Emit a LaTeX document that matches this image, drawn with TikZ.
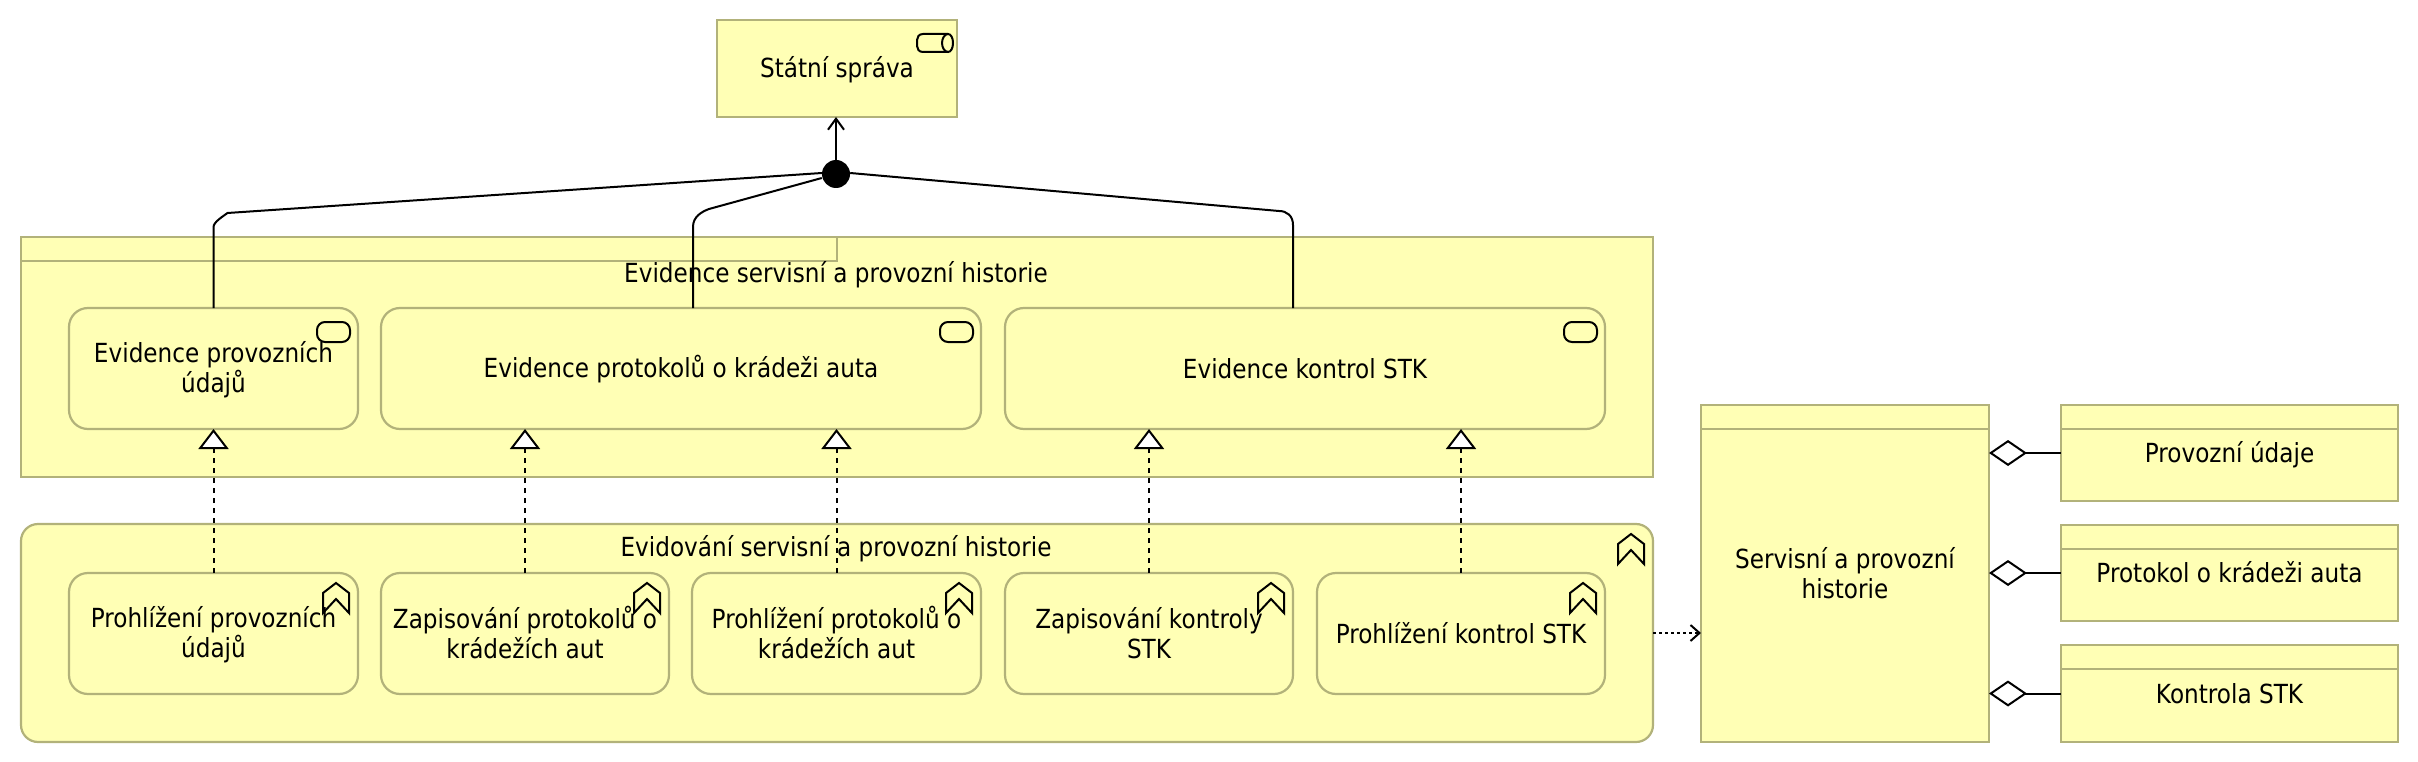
\documentclass[tikz,border=0pt]{standalone}
\usepackage{fontspec}
\setmainfont[FakeStretch=0.88]{DejaVu Sans}
\usetikzlibrary{arrows.meta,calc,shapes.geometric}
\definecolor{archfill}{HTML}{FFFFB5}
\definecolor{archline}{HTML}{B2B27A}
\newcommand{\ls}{\rule[-4.5pt]{0pt}{28pt}}
\tikzset{
  base/.style={draw=archline,line width=2.2pt,fill=archfill,anchor=north west,inner sep=0pt,outer sep=0pt,align=center,font=\fontsize{26.3}{30}\selectfont},
  sq/.style={base,rectangle},
  rnd/.style={base,rectangle,rounded corners=19pt},
  grp/.style={base,rectangle,rounded corners=17pt},
  lbl/.style={font=\fontsize{26.3}{30}\selectfont,inner sep=0pt},
  sep/.style={draw=archline,line width=2.2pt},
  icon/.style={draw=black,line width=2pt,line join=miter},
  conn/.style={draw=black,line width=2pt},
  real/.style={conn,dash pattern=on 5pt off 5pt,-{Triangle[fill=white,length=20pt,width=30pt,line width=2pt]}},
  flowc/.style={conn,dash pattern=on 3pt off 3pt,-{Straight Barb[length=9pt,width=16pt,line width=2pt]}},
  serv/.style={conn,-{Straight Barb[length=11pt,width=16pt,line width=2pt]}},
  aggr/.style={conn,{Diamond[fill=white,length=38pt,width=26pt,line width=2pt]}-},
  joint/.style={circle,fill=black,draw=none,minimum size=28pt,inner sep=0pt}
}
\newcommand{\pill}[1]{\draw[icon,rounded corners=8pt] ([shift={(-41pt,-14pt)}]#1.north east) rectangle ([shift={(-8pt,-34pt)}]#1.north east);}
\newcommand{\chev}[1]{\draw[icon] ([shift={(-35pt,-40pt)}]#1.north east) -- ([shift={(-35pt,-20pt)}]#1.north east) -- ([shift={(-22pt,-10pt)}]#1.north east) -- ([shift={(-9pt,-20pt)}]#1.north east) -- ([shift={(-9pt,-40pt)}]#1.north east) -- ([shift={(-22pt,-26pt)}]#1.north east) -- cycle;}
\newcommand{\hdr}[1]{\draw[sep] ([yshift=-24pt]#1.north west) -- ([yshift=-24pt]#1.north east);}
\begin{document}
\begin{tikzpicture}[x=1pt,y=-1pt]
\useasboundingbox (0,0) rectangle (2418,762);
% groups
\node[sq,minimum width=1632pt,minimum height=240pt] (g1) at (21,237) {};
\draw[sep] (g1.north west) rectangle ([shift={(816pt,-24pt)}]g1.north west);
\node[lbl] (g1t) at (836,273) {\ls Evidence servisní a provozní historie};
\node[grp,minimum width=1632pt,minimum height=218pt] (g2) at (21,524) {};
\node[lbl] (g2t) at (836,547) {\ls Evidování servisní a provozní historie};
\chev{g2}
% top
\node[sq,minimum width=240pt,minimum height=97pt] (st) at (717,20) {\ls Státní správa};
\draw[icon] (948,34) -- (923,34) .. controls (919,34) and (917,37) .. (917,40) -- (917,46) .. controls (917,49) and (919,52) .. (923,52) -- (948,52);
\draw[icon] (948,34) .. controls (945,34) and (942,38) .. (942,43) .. controls (942,48) and (945,52) .. (948,52) .. controls (951,52) and (953,48) .. (953,43) .. controls (953,38) and (951,34) .. (948,34) -- cycle;
\node[joint] (j) at (836,174) {};
% services
\node[rnd,minimum width=289pt,minimum height=121pt] (s1) at (69,308) {\ls Evidence provozních\\\ls údajů};
\node[rnd,minimum width=600pt,minimum height=121pt] (s2) at (381,308) {\ls Evidence protokolů o krádeži auta};
\node[rnd,minimum width=600pt,minimum height=121pt] (s3) at (1005,308) {\ls Evidence kontrol STK};
\pill{s1}\pill{s2}\pill{s3}
% functions
\node[rnd,minimum width=289pt,minimum height=121pt] (f1) at (69,573) {\ls Prohlížení provozních\\\ls údajů};
\node[rnd,minimum width=288pt,minimum height=121pt] (f2) at (381,573) {\ls Zapisování protokolů o\\\ls krádežích aut};
\node[rnd,minimum width=289pt,minimum height=121pt] (f3) at (692,573) {\ls Prohlížení protokolů o\\\ls krádežích aut};
\node[rnd,minimum width=288pt,minimum height=121pt] (f4) at (1005,573) {\ls Zapisování kontroly\\\ls STK};
\node[rnd,minimum width=288pt,minimum height=121pt] (f5) at (1317,573) {\ls Prohlížení kontrol STK};
\chev{f1}\chev{f2}\chev{f3}\chev{f4}\chev{f5}
% data
\node[sq,minimum width=288pt,minimum height=337pt] (d) at (1701,405) {\ls Servisní a provozní\\\ls historie};
\node[sq,minimum width=337pt,minimum height=96pt] (d1) at (2061,405) {\ls Provozní údaje};
\node[sq,minimum width=337pt,minimum height=96pt] (d2) at (2061,525) {\ls Protokol o krádeži auta};
\node[sq,minimum width=337pt,minimum height=97pt] (d3) at (2061,645) {\ls Kontrola STK};
\hdr{d}\hdr{d1}\hdr{d2}\hdr{d3}
% connectors
\draw[serv] (j.north) -- (j.north |- st.south);
\draw[conn] (s1.north) -- ++(0,-81) .. controls +(0,-5) and +(-4,3) .. ++(14,-14) -- ([yshift=1pt]j.west);
\draw[conn] ([xshift=12pt]s2.north) -- ++(0,-81) .. controls +(0,-10) and +(-8,3) .. ++(16,-18) -- ([yshift=-4pt]j.west);
\draw[conn] ([xshift=-12pt]s3.north) -- ++(0,-83) .. controls +(0,-9) and +(8,0) .. ++(-14,-14) -- ([yshift=1pt]j.east);
\draw[real] (f1.north) -- (s1.south);
\draw[real] (f2.north) -- (f2.north |- s2.south);
\draw[real] (f3.north) -- (f3.north |- s2.south);
\draw[real] (f4.north) -- (f4.north |- s3.south);
\draw[real] (f5.north) -- (f5.north |- s3.south);
\draw[flowc] (g2.east) -- (g2.east -| d.west);
\draw[aggr] (d.east |- d1.center) -- (d1.west);
\draw[aggr] (d.east |- d2.center) -- (d2.west);
\draw[aggr] (d.east |- d3.center) -- (d3.west);
\end{tikzpicture}
\end{document}
